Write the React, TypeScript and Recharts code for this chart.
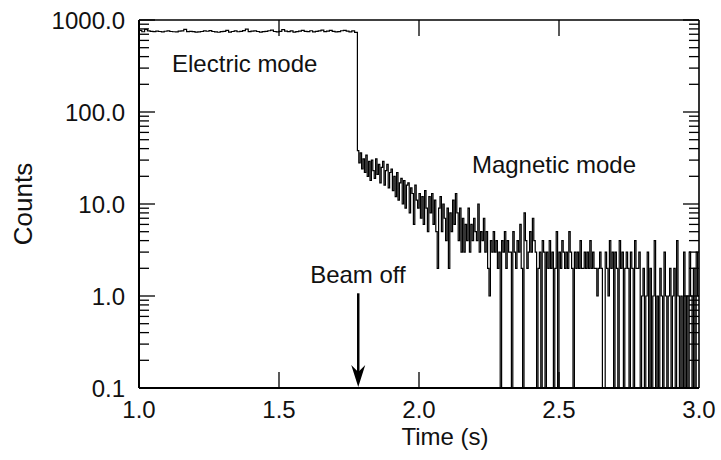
import {
  LineChart,
  Line,
  XAxis,
  YAxis,
  ReferenceLine,
  ReferenceDot,
} from 'recharts';

// Counts per bin while the beam is on (electric mode), 10 ms bins from 1.00 s
const electricCounts = [
  770, 745, 790, 760, 752, 748, 758, 750, 742, 755,
  762, 750, 745, 742, 756, 760, 790, 748, 752, 746,
  738, 744, 750, 762, 755, 768, 750, 742, 736, 748,
  754, 772, 740, 750, 762, 745, 752, 768, 795, 748,
  756, 762, 750, 740, 746, 752, 764, 775, 750, 742,
  752, 785, 758, 748, 760, 738, 748, 756, 770, 752,
  748, 764, 742, 752, 762, 776, 748, 756, 770, 752,
  742, 748, 764, 772, 756, 744, 760, 735,
];

// Counts per bin after beam off (magnetic mode), 5 ms bins from 1.78 s
const magneticCounts = [
  38, 28, 36, 24, 31, 22, 34, 20, 29, 18, 30, 23, 19, 31, 21, 27, 17, 25, 29, 16, 23, 27, 15, 22,
  24, 14, 20, 12, 22, 11, 17, 19, 10, 18, 9, 16, 17, 8, 15, 13, 6, 16, 11, 9,
  13, 7, 12, 6, 14, 9, 5, 12, 8, 13, 6, 11, 5, 2, 9, 12, 5, 10, 7, 4,
  9, 2, 8, 5, 11, 6, 13, 8, 4, 9, 3, 7, 3, 6, 4, 9, 3, 6, 4, 7,
  5, 4, 10, 3, 5, 4, 7, 3, 5, 2,
  1, 4, 3, 5, 3, 4, 2, 3, 0, 4,
  3, 5, 2, 4, 3, 3, 0, 5, 3, 2,
  4, 3, 6, 2, 0, 8, 4, 2, 3, 5,
  3, 7, 4, 3, 0, 2, 3, 0, 4, 3,
  0, 3, 2, 4, 2, 3, 0, 2, 5, 0,
  3, 2, 4, 3, 2, 3, 2, 5, 3, 2,
  0, 3, 2, 3, 2, 4, 2, 2, 3, 2,
  3, 2, 4, 2, 3, 2, 2, 1, 2, 3,
  2, 0, 0, 3, 2, 1, 4, 2, 3, 0,
  3, 2, 0, 4, 2, 3, 0, 2, 3, 2,
  0, 3, 2, 0, 4, 2, 2, 3, 0, 1,
  2, 0, 1, 3, 0, 2, 0, 1, 4, 0,
  1, 0, 2, 1, 0, 3, 1, 0, 1, 2,
  0, 1, 2, 0, 4, 1, 0, 1, 0, 3,
  0, 1, 0, 3, 1, 0, 2, 0, 3, 1,
];

const xTicks = [1.0, 1.5, 2.0, 2.5, 3.0];
const xInnerTicks = [1.5, 2.0, 2.5];
const yTicks = [0.1, 1, 10, 100, 1000];
const yMinorTicks = [0.1, 1, 10, 100].flatMap((d) =>
  [2, 3, 4, 5, 6, 7, 8, 9].map((m) => m * d)
);

const FLOOR = 0.1;
const FONT = '"Liberation Sans", Arial, Helvetica, sans-serif';

const W = 721;
const H = 460;
const margin = { top: 20, right: 22, left: 8, bottom: 12 };
const yAxisWidth = 131;
const xAxisHeight = 60;
const plotW = W - margin.left - margin.right - yAxisWidth;
const plotH = H - margin.top - margin.bottom - xAxisHeight;
// data units per pixel, for inward tick lengths
const xPerPx = 2 / plotW;
const decPerPx = 4 / plotH;

const data = [
  ...electricCounts.map((c, i) => ({ t: 1 + i * 0.01, c })),
  ...magneticCounts.map((c, i) => ({ t: 1.78 + i * 0.005, c })),
  { t: 3.0, c: magneticCounts[magneticCounts.length - 1] },
].map((d) => ({ t: d.t, c: Math.max(d.c, FLOOR) }));

const tickStyle = { fontSize: 24, fill: '#111', fontFamily: FONT };

function textShape(label: string, anchor: string) {
  // eslint-disable-next-line @typescript-eslint/no-explicit-any
  return (p: any) => (
    <text
      x={p.cx}
      y={p.cy}
      textAnchor={anchor}
      fontSize={24}
      fontFamily={FONT}
      fill="#111"
    >
      {label}
    </text>
  );
}

// eslint-disable-next-line @typescript-eslint/no-explicit-any
function ArrowShape(p: any) {
  const { x1, y1, x2, y2 } = p;
  return (
    <g>
      <line x1={x1} y1={y1} x2={x2} y2={y2 - 14} stroke="#000" strokeWidth={2.5} />
      <polygon
        points={`${x2},${y2 - 1} ${x2 - 7},${y2 - 23} ${x2},${y2 - 16} ${x2 + 7},${y2 - 23}`}
        fill="#000"
      />
    </g>
  );
}

export default function App() {
  const majorLen = 16;
  const minorLen = 10;
  const tick = (k: string, a: { x: number; y: number }, b: { x: number; y: number }) => (
    <ReferenceLine
      key={k}
      segment={[a, b]}
      stroke="#000"
      strokeWidth={1.3}
      ifOverflow="visible"
    />
  );

  return (
    <div style={{ position: 'absolute', left: 0, top: 0, background: '#fff' }}>
      <LineChart width={W} height={H} data={data} margin={margin}>
        <XAxis
          dataKey="t"
          type="number"
          domain={[1, 3]}
          ticks={xTicks}
          allowDataOverflow
          tickFormatter={(v: number) => v.toFixed(1)}
          tick={tickStyle}
          tickLine={false}
          axisLine={false}
          tickMargin={7}
          height={xAxisHeight}
          label={{
            // eslint-disable-next-line @typescript-eslint/no-explicit-any
            content: ({ viewBox }: any) => (
              <text
                x={viewBox.x + viewBox.width / 2 + 26}
                y={viewBox.y + 57}
                textAnchor="middle"
                fontSize={24}
                fontFamily={FONT}
                fill="#111"
              >
                Time (s)
              </text>
            ),
          }}
        />
        <YAxis
          scale="log"
          domain={[0.1, 1000]}
          ticks={yTicks}
          allowDataOverflow
          tickFormatter={(v: number) => v.toFixed(1)}
          tick={tickStyle}
          tickLine={false}
          axisLine={false}
          tickMargin={8}
          width={yAxisWidth}
          label={{
            // eslint-disable-next-line @typescript-eslint/no-explicit-any
            content: ({ viewBox }: any) => (
              <text
                x={viewBox.x + 15}
                y={viewBox.y + viewBox.height / 2}
                transform={`rotate(-90 ${viewBox.x + 15} ${viewBox.y + viewBox.height / 2})`}
                textAnchor="middle"
                dominantBaseline="central"
                fontSize={26}
                fontFamily={FONT}
                fill="#111"
              >
                Counts
              </text>
            ),
          }}
        />

        {/* frame */}
        <ReferenceLine x={1} stroke="#000" strokeWidth={2} ifOverflow="visible" />
        <ReferenceLine x={3} stroke="#000" strokeWidth={1.6} ifOverflow="visible" />
        <ReferenceLine y={0.1} stroke="#000" strokeWidth={2} ifOverflow="visible" />
        <ReferenceLine y={1000} stroke="#000" strokeWidth={1.6} ifOverflow="visible" />

        {/* inward ticks */}
        {yTicks.map((v) => tick(`yl${v}`, { x: 1, y: v }, { x: 1 + majorLen * xPerPx, y: v }))}
        {yTicks.map((v) => tick(`yr${v}`, { x: 3, y: v }, { x: 3 - majorLen * xPerPx, y: v }))}
        {yMinorTicks.map((v) => tick(`ml${v}`, { x: 1, y: v }, { x: 1 + minorLen * xPerPx, y: v }))}
        {yMinorTicks.map((v) => tick(`mr${v}`, { x: 3, y: v }, { x: 3 - minorLen * xPerPx, y: v }))}
        {xInnerTicks.map((t) =>
          tick(`xb${t}`, { x: t, y: 0.1 }, { x: t, y: 0.1 * Math.pow(10, majorLen * decPerPx) })
        )}
        {xInnerTicks.map((t) =>
          tick(`xt${t}`, { x: t, y: 1000 }, { x: t, y: 1000 / Math.pow(10, majorLen * decPerPx) })
        )}

        <Line
          type="stepAfter"
          dataKey="c"
          stroke="#000"
          strokeWidth={1.2}
          dot={false}
          isAnimationActive={false}
        />

        {/* annotations */}
        <ReferenceDot x={1.118} y={272} r={0} ifOverflow="visible" shape={textShape('Electric mode', 'start')} />
        <ReferenceDot x={2.482} y={21.7} r={0} ifOverflow="visible" shape={textShape('Magnetic mode', 'middle')} />
        <ReferenceDot x={1.782} y={1.38} r={0} ifOverflow="visible" shape={textShape('Beam off', 'middle')} />
        <ReferenceLine
          segment={[
            { x: 1.783, y: 1.07 },
            { x: 1.783, y: 0.1 },
          ]}
          ifOverflow="visible"
          shape={ArrowShape}
        />
      </LineChart>
    </div>
  );
}
